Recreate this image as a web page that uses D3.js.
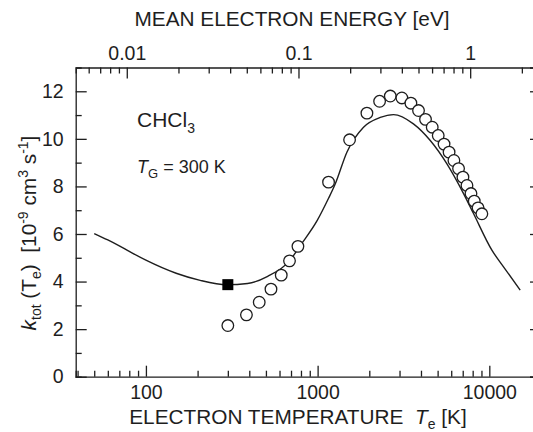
<!DOCTYPE html>
<html>
<head>
<meta charset="utf-8">
<script src="https://cdn.jsdelivr.net/npm/d3@7"></script>
<style>
  html, body { margin: 0; padding: 0; background: #fff; }
  svg { display: block; font-family: "Liberation Sans", Arial, sans-serif; }
  svg text { white-space: pre; }
</style>
</head>
<body>
<svg id="chart" width="533" height="432"></svg>
<script>
// calculated rate coefficient (solid line)
const curveT = [50, 60, 70, 80, 100, 150, 207, 296, 391, 512, 686, 794, 995, 1158, 1266, 1481,
  1851, 2316, 2768, 3614, 4530, 5665, 7080, 8090, 10350, 12100, 15130];
const curveK = [6.02, 5.75, 5.5, 5.27, 4.9, 4.35, 4.05, 3.87, 3.92, 4.22, 4.87, 5.52, 6.57, 7.5, 8.1, 9.44,
  10.49, 10.9, 11.02, 10.63, 9.93, 8.95, 7.7, 6.86, 5.32, 4.62, 3.64];

// measured values (open circles)
const measT = [300, 385, 457, 535, 614, 686, 768, 1158, 1535, 1937, 2296, 2650, 3096, 3494, 3870,
  4250, 4650, 5040, 5450, 5830, 6220, 6620, 7020, 7410, 7820, 8170, 8600, 9050];
const measK = [2.15, 2.6, 3.13, 3.68, 4.27, 4.87, 5.48, 8.18, 9.96, 11.08, 11.58, 11.8, 11.72, 11.5, 11.19,
  10.82, 10.49, 10.14, 9.78, 9.44, 9.09, 8.75, 8.39, 8.04, 7.7, 7.38, 7.1, 6.85];

// thermal value at T_G = 300 K (filled square)
const thermalT = [300];
const thermalK = [3.87];

const yTicks = [0, 2, 4, 6, 8, 10, 12];
const xLabels = [100, 1000, 10000];
const eLabels = [0.01, 0.1, 1];

const kB = 8.617e-5; // eV/K, mean energy = 3/2 kT

const svg = d3.select("#chart");
const pLeft = 75.7, pRight = 541, pTop = 67.5, pBottom = 376.7;
const ink = "#1e1e1e";

const x = d3.scaleLog().domain([39, 20000]).range([pLeft, pRight]);
const xE = d3.scaleLog().domain([1.5 * kB * 39, 1.5 * kB * 20000]).range([pLeft, pRight]);
const y = d3.scaleLinear().domain([0, 13]).range([pBottom, pTop]);

function styleAxis(g) {
  g.selectAll("path").attr("stroke", ink).attr("stroke-width", 1.3);
  g.selectAll("line").attr("stroke", ink).attr("stroke-width", 1.3);
  g.selectAll("text").attr("fill", ink).style("font-size", "19.5px");
}

// minor ticks: every 1..9 multiple
const minorT = x.ticks().filter(d => !xLabels.includes(d));
const minorE = xE.ticks().filter(d => !eLabels.some(e => Math.abs(e - d) < 1e-9));

// bottom axis
svg.append("g").attr("transform", `translate(0,${pBottom})`)
  .call(d3.axisBottom(x).tickValues(minorT).tickSize(-6).tickFormat(""))
  .call(styleAxis);
svg.append("g").attr("transform", `translate(0,${pBottom})`)
  .call(d3.axisBottom(x).tickValues(xLabels).tickSize(-11).tickPadding(8).tickFormat(d3.format("d")))
  .call(g => g.select(".domain").remove())
  .call(styleAxis);

// top axis (mean electron energy)
svg.append("g").attr("transform", `translate(0,${pTop})`)
  .call(d3.axisTop(xE).tickValues(minorE).tickSize(-6).tickFormat(""))
  .call(styleAxis);
svg.append("g").attr("transform", `translate(0,${pTop})`)
  .call(d3.axisTop(xE).tickValues(eLabels).tickSize(-11).tickPadding(8).tickFormat(d => String(d)))
  .call(g => g.select(".domain").remove())
  .call(styleAxis);

// left and right axes
const yMinor = d3.range(1, 13, 2);
svg.append("g").attr("transform", `translate(${pLeft},0)`)
  .call(d3.axisLeft(y).tickValues(yMinor).tickSize(-6).tickFormat(""))
  .call(styleAxis);
svg.append("g").attr("transform", `translate(${pLeft},0)`)
  .call(d3.axisLeft(y).tickValues(yTicks).tickSize(-11).tickPadding(12).tickFormat(d3.format("d")))
  .call(g => g.select(".domain").remove())
  .call(styleAxis);
svg.append("g").attr("transform", `translate(${pRight},0)`)
  .call(d3.axisRight(y).tickValues(yMinor).tickSize(-6).tickFormat(""))
  .call(styleAxis);
svg.append("g").attr("transform", `translate(${pRight},0)`)
  .call(d3.axisRight(y).tickValues(yTicks).tickSize(-11).tickFormat(""))
  .call(styleAxis);

// calculated curve
const line = d3.line()
  .x(d => x(d[0]))
  .y(d => y(d[1]))
  .curve(d3.curveMonotoneX);

svg.append("path")
  .datum(curveT.map((t, i) => [t, curveK[i]]))
  .attr("d", line)
  .attr("fill", "none")
  .attr("stroke", ink)
  .attr("stroke-width", 1.4);

// measured circles
svg.selectAll(".meas")
  .data(measT.map((t, i) => [t, measK[i]]))
  .enter()
  .append("circle")
  .attr("class", "meas")
  .attr("cx", d => x(d[0]))
  .attr("cy", d => y(d[1]))
  .attr("r", 5.8)
  .attr("fill", "#fff")
  .attr("stroke", ink)
  .attr("stroke-width", 1.3);

// thermal square
svg.selectAll(".thermal")
  .data(thermalT.map((t, i) => [t, thermalK[i]]))
  .enter()
  .append("rect")
  .attr("class", "thermal")
  .attr("x", d => x(d[0]) - 5.5)
  .attr("y", d => y(d[1]) - 5.5)
  .attr("width", 11)
  .attr("height", 11)
  .attr("fill", "#000");

// axis titles
svg.append("text")
  .attr("x", 292).attr("y", 26)
  .attr("text-anchor", "middle")
  .attr("fill", ink)
  .style("font-size", "20.8px")
  .text("MEAN ELECTRON ENERGY [eV]");

const xt = svg.append("text")
  .attr("x", 298).attr("y", 424)
  .attr("text-anchor", "middle")
  .attr("fill", ink)
  .style("font-size", "20.8px");
xt.append("tspan").text("ELECTRON TEMPERATURE  ");
xt.append("tspan").style("font-style", "italic").text("T");
xt.append("tspan").attr("dy", 5).style("font-size", "14px").text("e");
xt.append("tspan").attr("dy", -5).text(" [K]");

const yt = svg.append("text")
  .attr("transform", "translate(36,233) rotate(-90)")
  .attr("text-anchor", "middle")
  .attr("fill", ink)
  .style("font-size", "20.8px");
yt.append("tspan").style("font-style", "italic").text("k");
yt.append("tspan").attr("dy", 5).style("font-size", "14px").text("tot");
yt.append("tspan").attr("dy", -5).text(" (T");
yt.append("tspan").attr("dy", 5).style("font-size", "14px").text("e");
yt.append("tspan").attr("dy", -5).text(")  [10");
yt.append("tspan").attr("dy", -8).style("font-size", "14px").text("-9");
yt.append("tspan").attr("dy", 8).text(" cm");
yt.append("tspan").attr("dy", -8).style("font-size", "14px").text("3");
yt.append("tspan").attr("dy", 8).text(" s");
yt.append("tspan").attr("dy", -8).style("font-size", "14px").text("-1");
yt.append("tspan").attr("dy", 8).text("]");

// annotations
const chem = svg.append("text")
  .attr("x", 137).attr("y", 127)
  .attr("fill", ink)
  .style("font-size", "21px");
chem.append("tspan").text("CHCl");
chem.append("tspan").attr("dy", 6).style("font-size", "14px").text("3");

const tg = svg.append("text")
  .attr("x", 137).attr("y", 173)
  .attr("fill", ink)
  .style("font-size", "18px");
tg.append("tspan").style("font-style", "italic").text("T");
tg.append("tspan").attr("dy", 5).style("font-size", "13px").text("G");
tg.append("tspan").attr("dy", -5).text(" = 300 K");
</script>
</body>
</html>
